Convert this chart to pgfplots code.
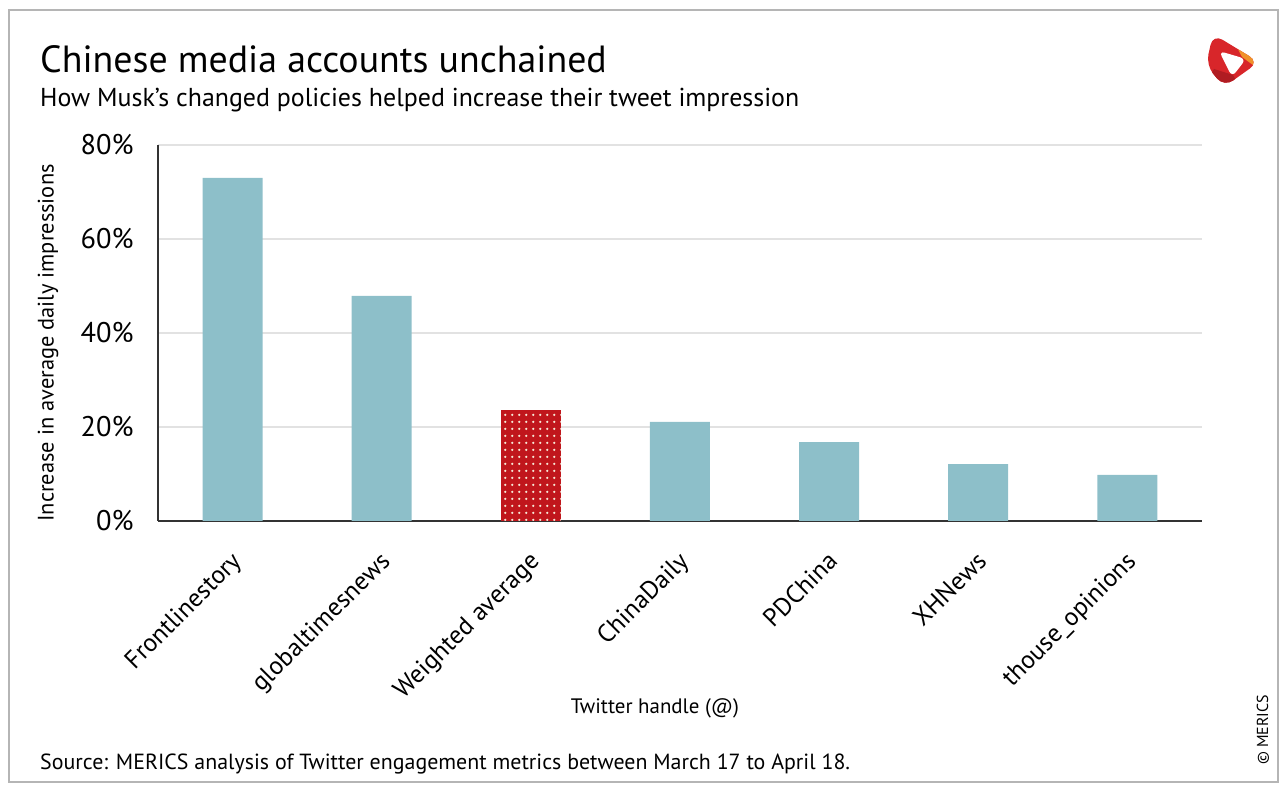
\documentclass[border=0pt]{standalone}
\usepackage{fontspec}
\setmainfont{PT Sans}
\usepackage{pgfplots}
\pgfplotsset{compat=1.18}
\usetikzlibrary{patterns.meta}

\definecolor{barcol}{HTML}{8DBFC9}
\definecolor{redcol}{HTML}{C0161C}
\definecolor{dotcol}{HTML}{F6E8D6}
\definecolor{gridcol}{HTML}{E2E2E2}
\definecolor{axiscol}{HTML}{333333}
\definecolor{framecol}{HTML}{B5B5B5}
\definecolor{logored}{HTML}{D8262A}
\definecolor{logoorange}{HTML}{F0922A}
\definecolor{logodark}{HTML}{B01C22}

\tikzdeclarepattern{
  name=whitedots,
  type=uncolored,
  bottom left={(0bp,0bp)},
  top right={(6.7bp,6.7bp)},
  tile size={(6.7bp,6.7bp)},
  code={\fill (3.35bp,3.35bp) circle (1.3bp);}
}

\begin{document}
\begin{tikzpicture}[x=1bp,y=1bp]
\path[use as bounding box] (0,0) rectangle (1286,791);
\draw[framecol, line width=2bp] (9,9) rectangle (1278,781);

% titles
\node[anchor=base west, inner sep=0pt, font=\fontsize{38}{44}\selectfont] at (40,718) {Chinese media accounts unchained};
\node[anchor=base west, inner sep=0pt, font=\fontsize{26}{30}\selectfont] at (40,684) {How Musk’s changed policies helped increase their tweet impression};

% logo
\begin{scope}
  \clip[rounded corners=11bp] (1213,757) -- (1259,729) -- (1224,704) -- (1206,726) -- cycle;
  \fill[logored] (1200,700) rectangle (1265,760);
  \fill[logoorange] (1226,765) -- (1268,765) -- (1268,715) -- (1242,734) -- cycle;
  \fill[logodark] (1200,700) -- (1242,700) -- (1233,716) -- (1214,722) -- cycle;
\end{scope}
\fill[white, rounded corners=6bp] (1219,740) -- (1246,732) -- (1232,714) -- cycle;

\begin{axis}[
  at={(158bp,270bp)}, anchor=south west,
  scale only axis, width=1044bp, height=376bp,
  xmin=-0.5, xmax=6.5, ymin=0, ymax=80,
  ybar, bar width=60bp,
  axis x line=bottom, axis y line=left,
  axis line style={-, draw=axiscol, line width=1.8bp},
  major tick length=0pt,
  ytick={0,20,40,60,80},
  yticklabel={\pgfmathprintnumber{\tick}\%},
  yticklabel style={font=\fontsize{28.5}{32}\selectfont, xshift=-21bp},
  ymajorgrids, grid style={draw=gridcol, line width=1.2bp},
  xtick={0,...,6},
  xticklabels={Frontlinestory, globaltimesnews, Weighted average, ChinaDaily, PDChina, XHNews, thouse\_opinions},
  xticklabel style={xshift=-3bp, yshift=-24bp, font=\fontsize{25.5}{28}\selectfont, rotate=45, anchor=north east},
  /pgf/number format/assume math mode=true,
  clip=false,
]
\addplot[draw=none, fill=barcol, bar shift=0pt] coordinates {
  (0,73.0) (1,47.9) (3,21.1) (4,16.8) (5,12.1) (6,9.8)
};
\addplot[draw=none, fill=redcol, bar shift=0pt,
  postaction={pattern=whitedots, pattern color=dotcol}] coordinates {
  (2,23.6)
};
\end{axis}

\node[anchor=base, inner sep=0pt, font=\fontsize{21}{24}\selectfont] at (655,77) {Twitter handle (@)};
\node[rotate=90, inner sep=0pt, font=\fontsize{22.5}{26}\selectfont] at (48,448) {Increase in average daily impressions};
\node[anchor=base west, inner sep=0pt, font=\fontsize{22}{26}\selectfont] at (40,21) {Source: MERICS analysis of Twitter engagement metrics between March 17 to April 18.};
\node[rotate=90, inner sep=0pt, font=\fontsize{16}{18}\selectfont] at (1263,61) {© MERICS};
\end{tikzpicture}
\end{document}
